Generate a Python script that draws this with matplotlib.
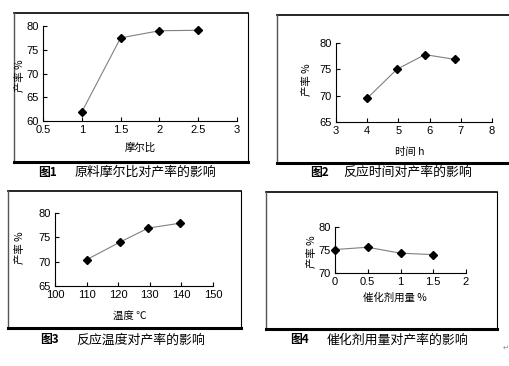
import matplotlib
matplotlib.use("Agg")
import matplotlib.pyplot as plt
from matplotlib.patches import Rectangle
from matplotlib.lines import Line2D

plt.rcParams['font.family'] = ['Liberation Sans', 'Noto Sans CJK SC', 'DejaVu Sans']
cjk = ['Noto Sans CJK SC', 'DejaVu Sans']

W, H = 509, 366

# data
ratio = [1, 1.5, 2, 2.5]
ratio_yield = [61.9, 77.5, 79.0, 79.1]

hours = [4, 4.95, 5.85, 6.8]
hours_yield = [69.5, 75.0, 77.8, 76.9]

temp = [110, 120.5, 129.5, 139.5]
temp_yield = [70.4, 74.0, 76.9, 77.9]

cat = [0, 0.5, 1, 1.5]
cat_yield = [75.1, 75.6, 74.3, 74.0]


def fx(px):
    return px / W


def fy(py):
    return 1 - py / H


def make_axes(fig, left, top, right, bottom):
    ax = fig.add_axes([fx(left), fy(bottom), (right - left) / W, (bottom - top) / H])
    ax.spines['top'].set_visible(False)
    ax.spines['right'].set_visible(False)
    ax.spines['left'].set_linewidth(0.8)
    ax.spines['bottom'].set_linewidth(0.8)
    ax.tick_params(direction='in', length=3, width=0.8, labelsize=8, pad=3)
    ax.patch.set_alpha(0)
    return ax


def frame(fig, left, top, right, bottom, right_edge=True):
    # outer box round each panel, thick line at the bottom
    fig.add_artist(Line2D([fx(left), fx(right)], [fy(top), fy(top)], color='black', lw=1.2))
    fig.add_artist(Line2D([fx(left), fx(left)], [fy(top), fy(bottom)], color='#555555', lw=1.0))
    if right_edge:
        fig.add_artist(Line2D([fx(right), fx(right)], [fy(top), fy(bottom)], color='black', lw=0.8))
    fig.add_artist(Line2D([fx(left), fx(right)], [fy(bottom), fy(bottom)], color='black', lw=2.2))


def plot_panel(ax, x, y):
    ax.plot(x, y, color='#808080', lw=0.8, marker='D', markersize=4.5,
            markerfacecolor='black', markeredgecolor='black', clip_on=False)


fig = plt.figure(figsize=(W / 100, H / 100), dpi=100)

# panel 1
frame(fig, 14, 13, 248, 162)
ax1 = make_axes(fig, 43, 26, 237, 121)
plot_panel(ax1, ratio, ratio_yield)
ax1.set_xlim(0.5, 3)
ax1.set_ylim(60, 80)
ax1.set_xticks([0.5, 1, 1.5, 2, 2.5, 3])
ax1.set_xticklabels(['0.5', '1', '1.5', '2', '2.5', '3'])
ax1.set_yticks([60, 65, 70, 75, 80])
fig.text(fx(140), fy(148), '摩尔比', family=cjk, fontsize=7.5, ha='center', va='center')
fig.text(fx(20), fy(76), '产率 %', family=cjk, fontsize=7.5, ha='center', va='center', rotation=90)

# panel 2
frame(fig, 277, 15, 512, 163, right_edge=False)
ax2 = make_axes(fig, 336, 43, 492, 122)
plot_panel(ax2, hours, hours_yield)
ax2.set_xlim(3, 8)
ax2.set_ylim(65, 80)
ax2.set_xticks([3, 4, 5, 6, 7, 8])
ax2.set_yticks([65, 70, 75, 80])
fig.text(fx(410), fy(152), '时间 h', family=cjk, fontsize=7.5, ha='center', va='center')
fig.text(fx(307), fy(80), '产率 %', family=cjk, fontsize=7.5, ha='center', va='center', rotation=90)

# panel 3
frame(fig, 8, 191, 241, 328)
ax3 = make_axes(fig, 55, 213, 213, 286)
plot_panel(ax3, temp, temp_yield)
ax3.set_xlim(100, 150)
ax3.set_ylim(65, 80)
ax3.set_xticks([100, 110, 120, 130, 140, 150])
ax3.set_yticks([65, 70, 75, 80])
fig.text(fx(130), fy(317), '温度 ℃', family=cjk, fontsize=7.5, ha='center', va='center')
fig.text(fx(20), fy(248), '产率 %', family=cjk, fontsize=7.5, ha='center', va='center', rotation=90)

# panel 4
frame(fig, 266, 192, 497, 329)
ax4 = make_axes(fig, 335, 227, 466, 273)
plot_panel(ax4, cat, cat_yield)
ax4.set_xlim(0, 2)
ax4.set_ylim(70, 80)
ax4.set_xticks([0, 0.5, 1, 1.5, 2])
ax4.set_xticklabels(['0', '0.5', '1', '1.5', '2'])
ax4.set_yticks([70, 75, 80])
fig.text(fx(395), fy(298), '催化剂用量 %', family=cjk, fontsize=7.5, ha='center', va='center')
fig.text(fx(312), fy(252), '产率 %', family=cjk, fontsize=7.5, ha='center', va='center', rotation=90)

# captions
caps = [
    (38, 75, 172, '图1', '原料摩尔比对产率的影响'),
    (310, 343, 172, '图2', '反应时间对产率的影响'),
    (40, 76, 340, '图3', '反应温度对产率的影响'),
    (290, 327, 340, '图4', '催化剂用量对产率的影响'),
]
for x0, x1, y, num, txt in caps:
    fig.text(fx(x0), fy(y), num, family=cjk, fontsize=8.5, ha='left', va='center', weight='bold')
    fig.text(fx(x1), fy(y), txt, family=cjk, fontsize=9.3, ha='left', va='center')

fig.text(fx(506), fy(348), '↵', fontsize=5, color='#888888', ha='center', va='center',
         family=['DejaVu Sans'])

fig.savefig('out.png', dpi=100)
